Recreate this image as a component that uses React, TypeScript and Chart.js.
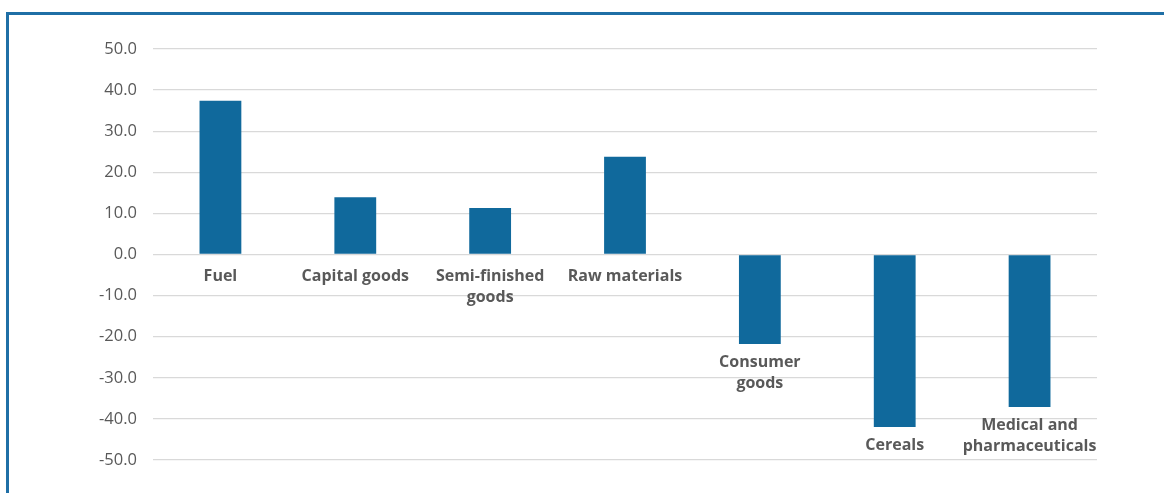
import React, { useEffect, useRef } from "react";
import { Chart, registerables } from "chart.js";

Chart.register(...registerables);

// Change by product group (%)
const categories: string[][] = [
  ["Fuel"],
  ["Capital goods"],
  ["Semi-finished", "goods"],
  ["Raw materials"],
  ["Consumer", "goods"],
  ["Cereals"],
  ["Medical and", "pharmaceuticals"],
];
const values: number[] = [37.4, 13.9, 11.3, 23.8, -21.8, -42.0, -37.1];
const yMin = -50;
const yMax = 50;
const yStep = 10;

const BAR_COLOR = "#10699c";
const TEXT_COLOR = "#595959";
const FONT = "'Open Sans', Lato, sans-serif";

// Category names sit under the zero line for gains and under the bar end for losses
const categoryLabels = {
  id: "categoryLabels",
  afterDatasetsDraw(chart: any) {
    const ctx = chart.ctx;
    const meta = chart.getDatasetMeta(0);
    const y0 = chart.scales.y.getPixelForValue(0);
    ctx.save();
    ctx.font = `bold 16px ${FONT}`;
    ctx.fillStyle = TEXT_COLOR;
    ctx.textAlign = "center";
    ctx.textBaseline = "middle";
    meta.data.forEach((bar: any, i: number) => {
      const v = values[i];
      const start = v >= 0 ? y0 + 22 : bar.y + 18;
      categories[i].forEach((line, j) => {
        ctx.fillText(line, bar.x, start + j * 21);
      });
    });
    ctx.restore();
  },
};

export default function App() {
  const canvasRef = useRef<HTMLCanvasElement | null>(null);

  useEffect(() => {
    if (!canvasRef.current) return;
    const chart = new Chart(canvasRef.current, {
      type: "bar",
      data: {
        labels: categories.map((c) => c.join(" ")),
        datasets: [
          {
            data: values,
            backgroundColor: BAR_COLOR,
            borderWidth: 0,
            categoryPercentage: 1,
            barPercentage: 0.31,
          },
        ],
      },
      options: {
        animation: false,
        responsive: false,
        maintainAspectRatio: false,
        layout: { padding: { left: 0, right: 67, top: 49, bottom: 33 } },
        plugins: {
          legend: { display: false },
          tooltip: { enabled: false },
        },
        scales: {
          x: { display: false },
          y: {
            min: yMin,
            max: yMax,
            afterFit(scale: any) {
              scale.width = 153;
            },
            border: { display: false },
            grid: { color: "#d9d9d9", lineWidth: 1.3, drawTicks: false },
            ticks: {
              stepSize: yStep,
              padding: 16,
              color: TEXT_COLOR,
              font: { family: FONT, size: 16.5 },
              callback: (v: any) => Number(v).toFixed(1),
            },
          },
        },
      },
      plugins: [categoryLabels],
    });
    return () => chart.destroy();
  }, []);

  return (
    <div style={{ position: "fixed", left: 0, top: 0, width: 1164, height: 493, background: "#fff" }}>
      <canvas ref={canvasRef} width={1164} height={493} style={{ position: "absolute", left: 0, top: 0 }} />
      <div
        style={{
          position: "absolute",
          left: 6,
          top: 12,
          width: 1170,
          height: 500,
          borderLeft: "3px solid #1f6fa6",
          borderTop: "3px solid #1f6fa6",
          pointerEvents: "none",
        }}
      />
    </div>
  );
}
